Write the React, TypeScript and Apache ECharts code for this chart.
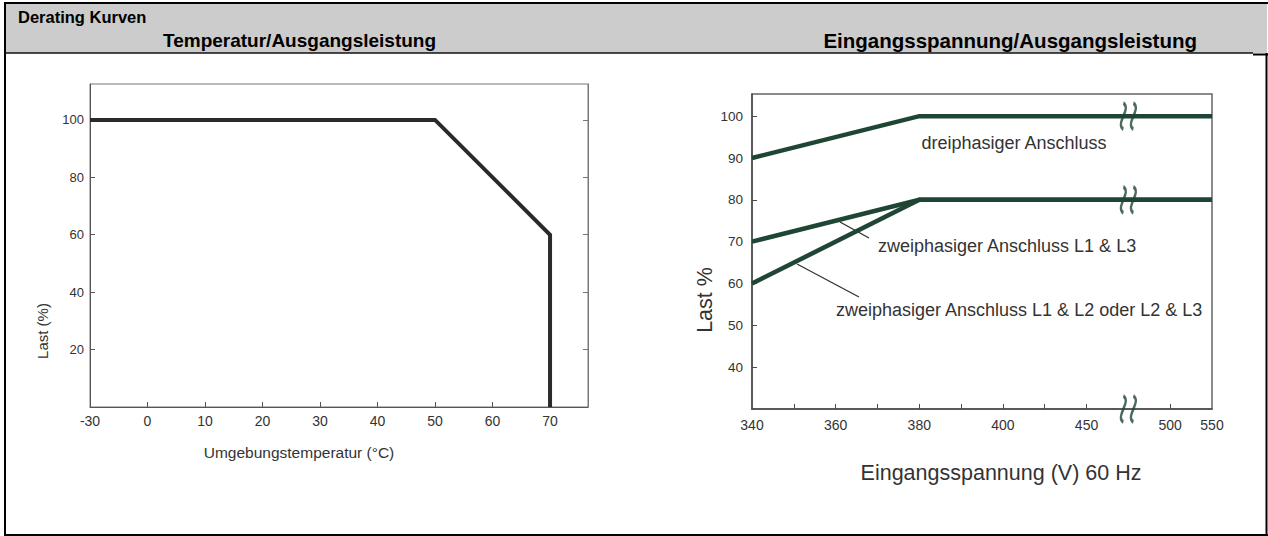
import React, { useEffect, useRef } from "react";
import * as echarts from "echarts";

// ---- Left chart: Temperatur / Ausgangsleistung ----
const tempAxisValues = [-30, 0, 10, 20, 30, 40, 50, 60, 70];
const tempCurveX = [-30, 50, 70, 70];
const tempCurveLoad = [100, 100, 60, 0];
const tempLoadTicks = [20, 40, 60, 80, 100];

// ---- Right chart: Eingangsspannung / Ausgangsleistung ----
const voltAxisValues = [340, 350, 360, 370, 380, 390, 400, 425, 450, 475, 500, 550];
const voltLabelValues = [340, 360, 380, 400, 450, 500, 550];
const voltTickValues = [350, 360, 370, 380, 390, 400, 425, 450, 500];
const voltBreakAt = 475;
const voltCurveX = [340, 380, 550];
const loadThreePhase = [90, 100, 100];
const loadL1L3 = [70, 80, 80];
const loadL1L2 = [60, 80, 80];
const voltLoadTicks = [40, 50, 60, 70, 80, 90, 100];
const breakLoads = [100, 80, 30];

const FONT = '"Liberation Sans", Arial, sans-serif';

// piecewise-linear broken-axis scale: value -> axis position (index units)
function brokenScale(stops: number[]) {
  return (v: number) => {
    for (let i = 0; i < stops.length - 1; i++) {
      if (v <= stops[i + 1] || i === stops.length - 2) {
        return i + (v - stops[i]) / (stops[i + 1] - stops[i]);
      }
    }
    return stops.length - 1;
  };
}
const tPos = brokenScale(tempAxisValues);
const vPos = brokenScale(voltAxisValues);

const BREAK_PATH = "path://M3,0 C9,4 -3,14 3,18 M10,0 C16,4 4,14 10,18";

export default function App() {
  const ref = useRef<HTMLDivElement>(null);
  useEffect(() => {
    document.body.style.margin = "0";
    if (!ref.current) return;
    const chart = echarts.init(ref.current, null, { renderer: "svg" });

    const leftLine = "#555";
    const rightLine = "#4a4a4a";
    const greenLine = "#1f4534";

    const option: any = {
      animation: false,
      backgroundColor: "#ffffff",
      textStyle: { fontFamily: FONT },
      grid: [
        { left: 90, top: 84, width: 498, height: 323, show: true, borderColor: "#777", borderWidth: 1, backgroundColor: "transparent" },
        { left: 752, top: 94, width: 460, height: 315, show: true, borderColor: "#666", borderWidth: 1.5, backgroundColor: "transparent" },
      ],
      xAxis: [
        {
          type: "value", gridIndex: 0, min: 0, max: 8.66,
          axisLine: { show: true, lineStyle: { color: leftLine, width: 1 } },
          axisTick: { show: true, inside: true, length: 5, customValues: tempAxisValues.slice(1).map(tPos), lineStyle: { color: leftLine } },
          axisLabel: {
            customValues: tempAxisValues.map(tPos),
            formatter: (v: number) => String(tempAxisValues[Math.round(v)]),
            color: "#333", fontSize: 14, margin: 7, fontFamily: FONT,
          },
          splitLine: { show: false },
        },
        {
          type: "value", gridIndex: 1, min: 0, max: voltAxisValues.length - 1,
          axisLine: { show: true, lineStyle: { color: rightLine, width: 1.5 } },
          axisTick: { show: true, inside: true, length: 5, customValues: voltTickValues.map(vPos), lineStyle: { color: rightLine } },
          axisLabel: {
            customValues: voltLabelValues.map(vPos),
            formatter: (v: number) => String(voltAxisValues[Math.round(v)]),
            color: "#333", fontSize: 14, margin: 9, fontFamily: FONT,
          },
          splitLine: { show: false },
        },
      ],
      yAxis: [
        {
          type: "value", gridIndex: 0, min: 0, max: 112.5,
          axisLine: { show: true, lineStyle: { color: leftLine, width: 1 } },
          axisTick: { show: true, inside: true, length: 5, customValues: tempLoadTicks, lineStyle: { color: leftLine } },
          axisLabel: { customValues: tempLoadTicks, color: "#333", fontSize: 13, margin: 6, fontFamily: FONT },
          splitLine: { show: false },
        },
        {
          type: "value", gridIndex: 0, position: "right", min: 0, max: 112.5,
          axisLine: { show: true, lineStyle: { color: "#777", width: 1 } },
          axisTick: { show: true, inside: true, length: 5, customValues: tempLoadTicks, lineStyle: { color: "#777" } },
          axisLabel: { show: false },
          splitLine: { show: false },
        },
        {
          type: "value", gridIndex: 1, min: 30, max: 105.3,
          axisLine: { show: true, lineStyle: { color: rightLine, width: 1.5 } },
          axisTick: { show: true, inside: true, length: 5, customValues: voltLoadTicks, lineStyle: { color: rightLine } },
          axisLabel: { customValues: voltLoadTicks, color: "#333", fontSize: 13.5, margin: 9, fontFamily: FONT },
          splitLine: { show: false },
        },
      ],
      series: [
        {
          type: "line", xAxisIndex: 0, yAxisIndex: 0, symbol: "none",
          lineStyle: { color: "#2a2a2a", width: 4, join: "miter" },
          data: tempCurveX.map((t, i) => [tPos(t), tempCurveLoad[i]]),
        },
        {
          type: "line", xAxisIndex: 1, yAxisIndex: 2, symbol: "none",
          lineStyle: { color: greenLine, width: 4.5, join: "miter" },
          data: voltCurveX.map((v, i) => [vPos(v), loadThreePhase[i]]),
        },
        {
          type: "line", xAxisIndex: 1, yAxisIndex: 2, symbol: "none",
          lineStyle: { color: greenLine, width: 4.5, join: "miter" },
          data: voltCurveX.map((v, i) => [vPos(v), loadL1L3[i]]),
        },
        {
          type: "line", xAxisIndex: 1, yAxisIndex: 2, symbol: "none",
          lineStyle: { color: greenLine, width: 4.5, join: "miter" },
          data: voltCurveX.map((v, i) => [vPos(v), loadL1L2[i]]),
        },
        {
          type: "scatter", xAxisIndex: 1, yAxisIndex: 2, symbol: BREAK_PATH, symbolSize: [15, 26],
          clip: false, z: 5,
          itemStyle: { color: "transparent", borderColor: greenLine, borderWidth: 3 },
          data: breakLoads.map((l) => [vPos(voltBreakAt), l]),
        },
      ],
      graphic: [
        // header band
        { type: "rect", z: 0, shape: { x: 5, y: 3, width: 1262, height: 50 }, style: { fill: "#cccccc" } },
        { type: "line", shape: { x1: 4, y1: 3, x2: 1268, y2: 3 }, style: { stroke: "#000", lineWidth: 2 } },
        { type: "line", shape: { x1: 5, y1: 2, x2: 5, y2: 536 }, style: { stroke: "#000", lineWidth: 2 } },
        { type: "line", shape: { x1: 4, y1: 535, x2: 1268, y2: 535 }, style: { stroke: "#000", lineWidth: 2 } },
        { type: "line", shape: { x1: 1266.5, y1: 53, x2: 1266.5, y2: 536 }, style: { stroke: "#000", lineWidth: 2 } },
        { type: "line", shape: { x1: 5, y1: 53, x2: 1253, y2: 53 }, style: { stroke: "#111", lineWidth: 1.5 } },
        { type: "line", shape: { x1: 1253, y1: 54.5, x2: 1268, y2: 54.5 }, style: { stroke: "#000", lineWidth: 2 } },
        { type: "text", x: 18, y: 17, style: { text: "Derating Kurven", fontFamily: FONT, fontWeight: "bold", fontSize: 16.5, fill: "#000", verticalAlign: "middle" } },
        { type: "text", x: 163, y: 40, style: { text: "Temperatur/Ausgangsleistung", fontFamily: FONT, fontWeight: "bold", fontSize: 19, fill: "#000", verticalAlign: "middle" } },
        { type: "text", x: 1197, y: 40, style: { text: "Eingangsspannung/Ausgangsleistung", fontFamily: FONT, fontWeight: "bold", fontSize: 20.5, fill: "#000", align: "right", verticalAlign: "middle" } },
        // left chart axis titles
        { type: "text", x: 299, y: 452, style: { text: "Umgebungstemperatur (°C)", fontFamily: FONT, fontSize: 15.5, fill: "#333", align: "center", verticalAlign: "middle" } },
        { type: "text", x: 42, y: 331, rotation: Math.PI / 2, style: { text: "Last (%)", fontFamily: FONT, fontSize: 15, fill: "#333", align: "center", verticalAlign: "middle" } },
        // right chart axis titles
        { type: "text", x: 1001, y: 473, style: { text: "Eingangsspannung (V) 60 Hz", fontFamily: FONT, fontSize: 21.5, fill: "#333", align: "center", verticalAlign: "middle" } },
        { type: "text", x: 705, y: 300, rotation: Math.PI / 2, style: { text: "Last %", fontFamily: FONT, fontSize: 21.5, fill: "#333", align: "center", verticalAlign: "middle" } },
        // annotations
        { type: "text", x: 1014, y: 143, style: { text: "dreiphasiger Anschluss", fontFamily: FONT, fontSize: 18, fill: "#333", align: "center", verticalAlign: "middle" } },
        { type: "text", x: 878, y: 246, style: { text: "zweiphasiger Anschluss L1 & L3", fontFamily: FONT, fontSize: 18, fill: "#333", verticalAlign: "middle" } },
        { type: "text", x: 836, y: 310, style: { text: "zweiphasiger Anschluss L1 & L2 oder L2 & L3", fontFamily: FONT, fontSize: 18, fill: "#333", verticalAlign: "middle" } },
        { type: "line", shape: { x1: 840, y1: 222, x2: 869, y2: 238 }, style: { stroke: "#333", lineWidth: 1.3 } },
        { type: "line", shape: { x1: 797, y1: 264, x2: 859, y2: 297 }, style: { stroke: "#333", lineWidth: 1.3 } },
      ],
    };
    chart.setOption(option);
    return () => chart.dispose();
  }, []);
  return <div ref={ref} style={{ position: "absolute", left: 0, top: 0, width: 1268, height: 536 }} />;
}
